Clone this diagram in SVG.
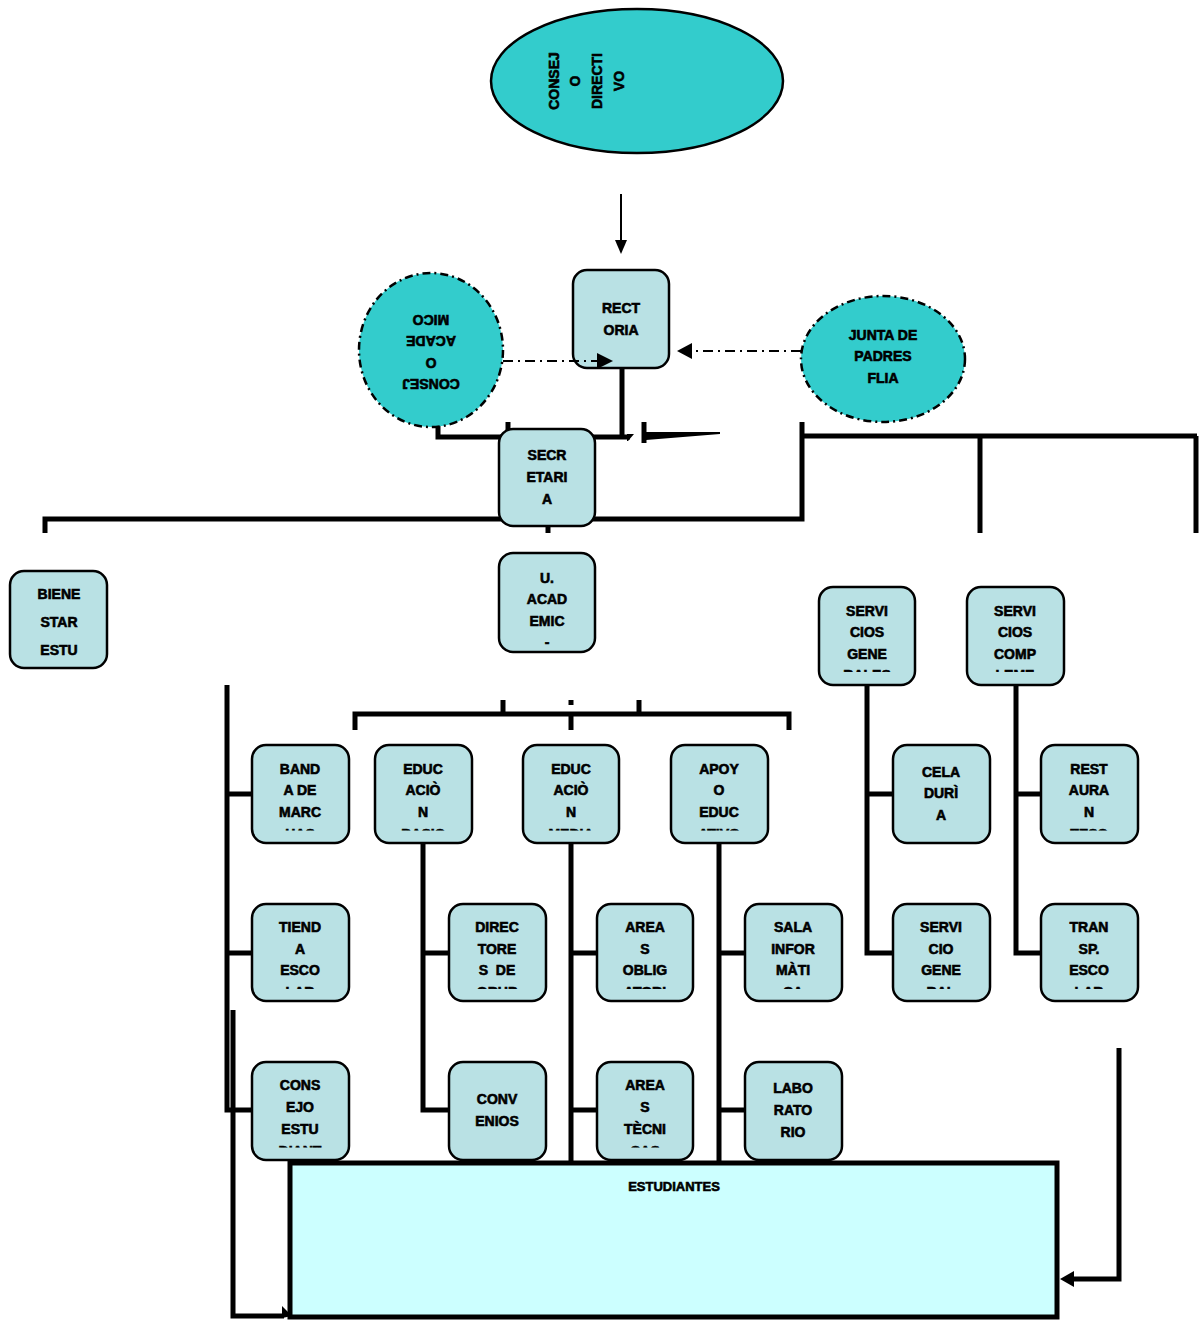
<svg xmlns="http://www.w3.org/2000/svg" width="1199" height="1321" viewBox="0 0 1199 1321">
<style>
.bx{fill:#b9e1e4;stroke:#000;stroke-width:2.5}
.el{fill:#33cccc;stroke:#000;stroke-width:2.5}
.dd{fill:#33cccc;stroke:#000;stroke-width:2.5;stroke-dasharray:8 4 2 4}
.t{font-family:"Liberation Sans",Arial,sans-serif;font-weight:bold;font-size:14px;text-anchor:middle;fill:#000;stroke:#000;stroke-width:0.6}
.ln{fill:none;stroke:#000;stroke-width:5}
.thin{fill:none;stroke:#000;stroke-width:2}
.dl{fill:none;stroke:#000;stroke-width:2;stroke-dasharray:10 5 2 5}
.hd{fill:#000}
</style>
<defs>
<clipPath id="c587"><rect x="0" y="0" width="1199" height="672"/></clipPath>
<clipPath id="c745"><rect x="0" y="0" width="1199" height="830.5"/></clipPath>
<clipPath id="c904"><rect x="0" y="0" width="1199" height="989"/></clipPath>
<clipPath id="c1062"><rect x="0" y="0" width="1199" height="1147.5"/></clipPath>
</defs>
<rect width="1199" height="1321" fill="#fff"/>
<g id="connectors">
<path class="thin" d="M621 194 V242"/>
<polygon class="hd" points="615,240 627,240 621,254"/>
<path class="ln" d="M622 368 V437"/>
<path class="ln" d="M438 424 V437 H630" stroke-width="6"/>
<polygon class="hd" points="627,434 634,434 628,441 627,441"/>
<path class="ln" d="M508 422 V437"/>
<path class="ln" d="M644 422 V443"/>
<polygon class="hd" points="646,432 720,432 720,434 646,440"/>
<path class="ln" d="M802 422 V519 H45 V533"/>
<path class="ln" d="M802 436 H1197"/>
<path class="ln" d="M980 436 V533"/>
<path class="ln" d="M1196 436 V533"/>
<path class="ln" d="M548 524 V533"/>
<path class="ln" d="M355 730 V714 H789 V730"/>
<path class="ln" d="M503 700 V714"/>
<path class="ln" d="M639 700 V714"/>
<path class="ln" d="M571 714 V730"/>
<path class="ln" d="M571 700 V705"/>
<path class="ln" d="M423 843 V1110 H449 M423 953 H449"/>
<path class="ln" d="M571 843 V1163 M571 953 H597 M571 1110 H597"/>
<path class="ln" d="M719 843 V1163 M719 953 H745 M719 1110 H745"/>
<path class="ln" d="M867 685 V953 H893 M867 794 H893"/>
<path class="ln" d="M1016 685 V953 H1041 M1016 794 H1041"/>
<path class="ln" d="M227 685 V1110 H252 M227 794 H252 M227 953 H252"/>
<path class="ln" d="M233 1010 V1316 H284" stroke-width="4"/>
<polygon class="hd" points="282,1306 292,1316 282,1318"/>
<path class="ln" d="M1119 1048 V1279 H1074" stroke-width="4"/>
<polygon class="hd" points="1074,1271 1060,1279 1074,1287"/>
</g>
<g id="consejo-directivo">
<ellipse class="el" cx="637" cy="81" rx="146" ry="72"/>
<text class="t" transform="rotate(-90 559 81)" x="559" y="81">CONSEJ</text>
<text class="t" transform="rotate(-90 580 81)" x="580" y="81">O</text>
<text class="t" transform="rotate(-90 602 81)" x="602" y="81">DIRECTI</text>
<text class="t" transform="rotate(-90 624 81)" x="624" y="81">VO</text>
</g>
<g id="consejo-academico">
<ellipse class="dd" cx="431" cy="350" rx="72" ry="77"/>
<g transform="rotate(180 431 352)">
<text class="t" x="431" y="325">CONSEJ</text>
<text class="t" x="431" y="346">O</text>
<text class="t" x="431" y="368">ACADE</text>
<text class="t" x="431" y="389">MICO</text>
</g>
</g>
<g id="junta">
<ellipse class="dd" cx="883" cy="359" rx="82" ry="63"/>
<text class="t" x="883" y="340">JUNTA DE</text>
<text class="t" x="883" y="361">PADRES</text>
<text class="t" x="883" y="383">FLIA</text>
</g>
<g id="rectoria">
<rect class="bx" x="573" y="270" width="96" height="98" rx="14"/>
<text class="t" x="621" y="313">RECT</text>
<text class="t" x="621" y="335">ORIA</text>
</g>
<g id="secretaria">
<rect class="bx" x="499" y="429" width="96" height="97" rx="14"/>
<text class="t" x="547" y="460">SECR</text>
<text class="t" x="547" y="482">ETARI</text>
<text class="t" x="547" y="504">A</text>
</g>
<g id="bienestar">
<rect class="bx" x="10" y="571" width="97" height="97" rx="14"/>
<text class="t" x="59" y="599">BIENE</text>
<text class="t" x="59" y="627">STAR</text>
<text class="t" x="59" y="655">ESTU</text>
</g>
<g id="u-academica">
<rect class="bx" x="499" y="553" width="96" height="99" rx="14"/>
<text class="t" x="547" y="583">U.</text>
<text class="t" x="547" y="604">ACAD</text>
<text class="t" x="547" y="626">EMIC</text>
<text class="t" x="547" y="647">-</text>
</g>
<g id="servicios-generales">
<rect class="bx" x="819" y="587" width="96" height="98" rx="14"/>
<text class="t" x="867" y="616">SERVI</text>
<text class="t" x="867" y="637">CIOS</text>
<text class="t" x="867" y="659">GENE</text>
<text class="t" x="867" y="680" clip-path="url(#c587)">RALES</text>
</g>
<g id="servicios-complementarios">
<rect class="bx" x="967" y="587" width="97" height="98" rx="14"/>
<text class="t" x="1015" y="616">SERVI</text>
<text class="t" x="1015" y="637">CIOS</text>
<text class="t" x="1015" y="659">COMP</text>
<text class="t" x="1015" y="680" clip-path="url(#c587)">LEME</text>
</g>
<g id="banda">
<rect class="bx" x="252" y="745" width="97" height="98" rx="14"/>
<text class="t" x="300" y="774">BAND</text>
<text class="t" x="300" y="795">A DE</text>
<text class="t" x="300" y="817">MARC</text>
<text class="t" x="300" y="838.5" clip-path="url(#c745)">HAS</text>
</g>
<g id="educacion-basica">
<rect class="bx" x="375" y="745" width="97" height="98" rx="14"/>
<text class="t" x="423" y="774">EDUC</text>
<text class="t" x="423" y="795">ACIÒ</text>
<text class="t" x="423" y="817">N</text>
<text class="t" x="423" y="838.5" clip-path="url(#c745)">BASIC</text>
</g>
<g id="educacion-media">
<rect class="bx" x="523" y="745" width="96" height="98" rx="14"/>
<text class="t" x="571" y="774">EDUC</text>
<text class="t" x="571" y="795">ACIÒ</text>
<text class="t" x="571" y="817">N</text>
<text class="t" x="571" y="838.5" clip-path="url(#c745)">MEDIA</text>
</g>
<g id="apoyo">
<rect class="bx" x="671" y="745" width="97" height="98" rx="14"/>
<text class="t" x="719" y="774">APOY</text>
<text class="t" x="719" y="795">O</text>
<text class="t" x="719" y="817">EDUC</text>
<text class="t" x="719" y="838.5" clip-path="url(#c745)">ATIVO</text>
</g>
<g id="celaduria">
<rect class="bx" x="893" y="745" width="97" height="98" rx="14"/>
<text class="t" x="941" y="777">CELA</text>
<text class="t" x="941" y="798">DURÌ</text>
<text class="t" x="941" y="820">A</text>
</g>
<g id="restaurante">
<rect class="bx" x="1041" y="745" width="97" height="98" rx="14"/>
<text class="t" x="1089" y="774">REST</text>
<text class="t" x="1089" y="795">AURA</text>
<text class="t" x="1089" y="817">N</text>
<text class="t" x="1089" y="838.5" clip-path="url(#c745)">TESC</text>
</g>
<g id="tienda">
<rect class="bx" x="252" y="904" width="97" height="97" rx="14"/>
<text class="t" x="300" y="932">TIEND</text>
<text class="t" x="300" y="954">A</text>
<text class="t" x="300" y="975">ESCO</text>
<text class="t" x="300" y="996.5" clip-path="url(#c904)">LAR</text>
</g>
<g id="directores">
<rect class="bx" x="449" y="904" width="97" height="97" rx="14"/>
<text class="t" x="497" y="932">DIREC</text>
<text class="t" x="497" y="954">TORE</text>
<text class="t" x="497" y="975" xml:space="preserve">S  DE</text>
<text class="t" x="497" y="996.5" clip-path="url(#c904)">GRUP</text>
</g>
<g id="areas-obligatorias">
<rect class="bx" x="597" y="904" width="96" height="97" rx="14"/>
<text class="t" x="645" y="932">AREA</text>
<text class="t" x="645" y="954">S</text>
<text class="t" x="645" y="975">OBLIG</text>
<text class="t" x="645" y="996.5" clip-path="url(#c904)">ATORI</text>
</g>
<g id="sala-informatica">
<rect class="bx" x="745" y="904" width="97" height="97" rx="14"/>
<text class="t" x="793" y="932">SALA</text>
<text class="t" x="793" y="954">INFOR</text>
<text class="t" x="793" y="975">MÀTI</text>
<text class="t" x="793" y="996.5" clip-path="url(#c904)">CA</text>
</g>
<g id="servicio-general">
<rect class="bx" x="893" y="904" width="97" height="97" rx="14"/>
<text class="t" x="941" y="932">SERVI</text>
<text class="t" x="941" y="954">CIO</text>
<text class="t" x="941" y="975">GENE</text>
<text class="t" x="941" y="996.5" clip-path="url(#c904)">RAL</text>
</g>
<g id="transporte">
<rect class="bx" x="1041" y="904" width="97" height="97" rx="14"/>
<text class="t" x="1089" y="932">TRAN</text>
<text class="t" x="1089" y="954">SP.</text>
<text class="t" x="1089" y="975">ESCO</text>
<text class="t" x="1089" y="996.5" clip-path="url(#c904)">LAR</text>
</g>
<g id="consejo-estudiantil">
<rect class="bx" x="252" y="1062" width="97" height="98" rx="14"/>
<text class="t" x="300" y="1090">CONS</text>
<text class="t" x="300" y="1112">EJO</text>
<text class="t" x="300" y="1134">ESTU</text>
<text class="t" x="300" y="1155.5" clip-path="url(#c1062)">DIANT</text>
</g>
<g id="convenios">
<rect class="bx" x="449" y="1062" width="97" height="98" rx="14"/>
<text class="t" x="497" y="1104">CONV</text>
<text class="t" x="497" y="1126">ENIOS</text>
</g>
<g id="areas-tecnicas">
<rect class="bx" x="597" y="1062" width="96" height="98" rx="14"/>
<text class="t" x="645" y="1090">AREA</text>
<text class="t" x="645" y="1112">S</text>
<text class="t" x="645" y="1134">TÈCNI</text>
<text class="t" x="645" y="1155.5" clip-path="url(#c1062)">CAS</text>
</g>
<g id="laboratorio">
<rect class="bx" x="745" y="1062" width="97" height="98" rx="14"/>
<text class="t" x="793" y="1093">LABO</text>
<text class="t" x="793" y="1115">RATO</text>
<text class="t" x="793" y="1137">RIO</text>
</g>
<g id="estudiantes">
<rect x="290" y="1163" width="767" height="154" fill="#ccffff" stroke="#000" stroke-width="5"/>
<text class="t" x="674" y="1191" style="font-size:13px">ESTUDIANTES</text>
</g>
<g id="connectors-dashed">
<path class="dl" d="M503 361 H598"/>
<polygon class="hd" points="597,353 613,361 597,369"/>
<path class="dl" d="M801 351 H692"/>
<polygon class="hd" points="692,343 677,351 692,359"/>
</g>
</svg>
